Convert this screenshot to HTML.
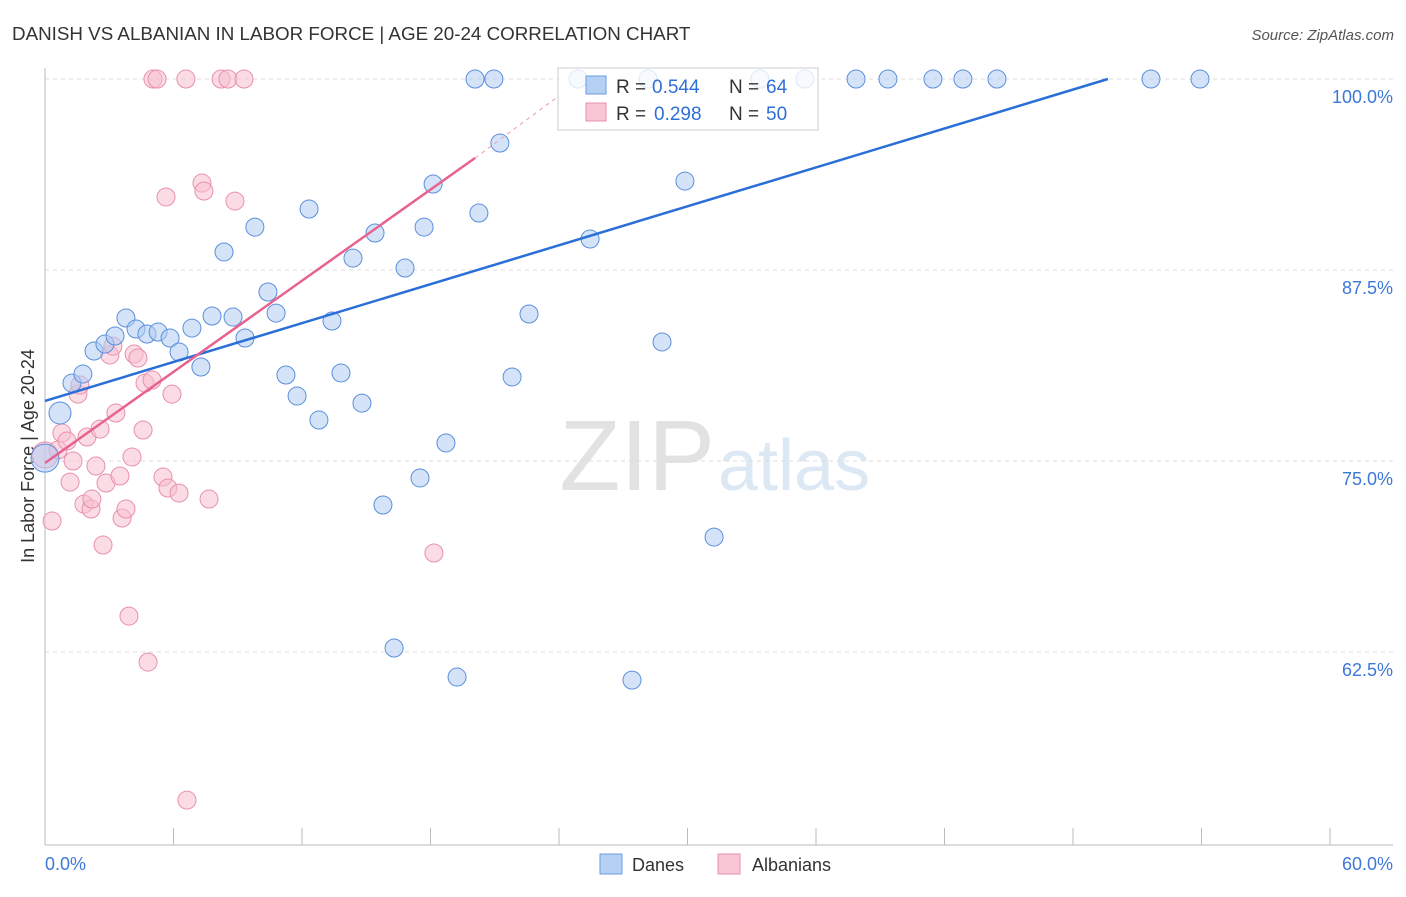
<!DOCTYPE html>
<html><head><meta charset="utf-8"><style>
body{margin:0;background:#fff;font-family:"Liberation Sans",sans-serif}
svg text{font-family:"Liberation Sans",sans-serif}
</style></head><body>
<svg id="c" width="1406" height="892" xmlns="http://www.w3.org/2000/svg">
<text x="12" y="40" font-size="18.8" fill="#333">DANISH VS ALBANIAN IN LABOR FORCE | AGE 20-24 CORRELATION CHART</text>
<text x="1394" y="40" font-size="15" fill="#555" font-style="italic" text-anchor="end">Source: ZipAtlas.com</text>
<text x="715" y="490" font-size="100" fill="#e2e2e2" text-anchor="end" font-family="Liberation Serif">ZIP</text>
<text x="718" y="490" font-size="72" fill="#dde8f5">atlas</text>
<text transform="translate(34,456) rotate(-90)" font-size="18" fill="#333" text-anchor="middle">In Labor Force | Age 20-24</text>
<g id="grid"></g><g id="pts"></g><g id="lines"></g>
<g>
<rect x="558" y="68" width="260" height="62" fill="#fff" fill-opacity="0.8" stroke="#ccc"/>
<rect x="586" y="76" width="20" height="18" fill="#b5d0f3" stroke="#6a9de0"/>
<text x="616" y="93" font-size="19" fill="#333">R =</text>
<text x="652" y="93" font-size="19" fill="#2f6fd6">0.544</text>
<text x="729" y="93" font-size="19" fill="#333">N =</text>
<text x="766" y="93" font-size="19" fill="#2f6fd6">64</text>
<rect x="586" y="103" width="20" height="18" fill="#f8c6d5" stroke="#e890ac"/>
<text x="616" y="120" font-size="19" fill="#333">R =</text>
<text x="654" y="120" font-size="19" fill="#2f6fd6">0.298</text>
<text x="729" y="120" font-size="19" fill="#333">N =</text>
<text x="766" y="120" font-size="19" fill="#2f6fd6">50</text>
</g>
<g>
<rect x="600" y="854" width="22" height="20" fill="#b5d0f3" stroke="#6a9de0"/>
<text x="632" y="871" font-size="18" fill="#333">Danes</text>
<rect x="718" y="854" width="22" height="20" fill="#f8c6d5" stroke="#e890ac"/>
<text x="752" y="871" font-size="18" fill="#333">Albanians</text>
</g>
</svg>
<script>
const danesX=[0,0.70,1.26,1.77,2.29,2.80,3.27,3.78,4.25,4.76,5.28,5.84,6.26,6.86,7.28,7.80,8.36,8.78,9.34,9.80,10.41,10.79,11.25,11.77,12.33,12.79,13.40,13.82,14.38,14.80,15.41,15.78,16.30,16.81,17.51,17.70,18.12,18.72,19.24,20.08,20.26,20.96,21.24,21.81,22.60,24.89,25.45,27.41,28.16,28.81,29.88,31.24,33.38,35.48,37.87,39.36,41.46,42.86,44.45,51.64,53.93];
const danesY=[75.19,78.14,80.10,80.69,82.20,82.66,83.18,84.36,83.64,83.31,83.44,83.05,82.13,83.70,81.15,84.49,88.68,84.42,83.05,90.31,86.06,84.68,80.63,79.25,91.49,77.68,84.16,80.76,88.28,78.79,89.92,72.12,62.76,87.63,73.89,90.31,93.13,76.18,60.86,100,91.23,100,95.81,80.50,84.62,100,89.53,60.66,100,82.79,93.32,70.02,100,100,100,100,100,100,100,100,100];
const albX=[0,0.33,0.61,0.79,1.03,1.17,1.31,1.54,1.63,1.82,1.96,2.15,2.19,2.38,2.57,2.71,2.85,3.03,3.17,3.31,3.50,3.60,3.78,3.92,4.06,4.16,4.34,4.58,4.67,4.81,5.00,5.04,5.23,5.51,5.65,5.74,5.93,6.26,6.63,6.58,7.33,7.42,7.66,8.22,8.54,8.87,9.29,18.16];
const albY=[75.39,71.07,75.72,76.83,76.31,73.62,75.00,79.38,79.97,72.18,76.57,71.86,72.51,74.67,77.09,69.50,73.56,81.94,82.52,78.14,74.02,71.27,71.86,64.85,75.26,82.00,81.74,77.03,80.10,61.84,80.30,100,100,73.95,92.28,73.23,79.38,72.90,52.81,100,93.19,92.67,72.51,100,100,92.01,100,68.98];
const danesLine=[[0,78.93],[49.63,100]];
const albLine=[[0,74.87],[20.08,94.83]];
const albLineDash=[[20.08,94.83],[24.0,98.9]];
const yTicks=[100,87.5,75,62.5];
const yTickLabels=["100.0%","87.5%","75.0%","62.5%"];
const xTicks=[0,6,12,18,24,30,36,42,48,54,60];
const NS="http://www.w3.org/2000/svg";
const sx=v=>45+v*1285/60, sy=v=>79+(100-v)*191/12.5;
function mk(t,a,p){const e=document.createElementNS(NS,t);for(const k in a)e.setAttribute(k,a[k]);p.appendChild(e);return e;}
const grid=document.getElementById('grid'),lines=document.getElementById('lines'),pts=document.getElementById('pts');
yTicks.forEach((v,i)=>{
 const g=mk('line',{x1:45,x2:1393,y1:sy(v),y2:sy(v),stroke:'#ddd','stroke-dasharray':'4,4'},grid);
 
 
 const t=mk('text',{x:1393,y:sy(v)+24,'font-size':18,fill:'#3d78d8','text-anchor':'end'},grid);t.textContent=yTickLabels[i];
 
 
});
const ax=mk('line',{x1:45,x2:1393,y1:845,y2:845,stroke:'#bbb'},grid);


const ay=mk('line',{x1:45,x2:45,y1:68,y2:845,stroke:'#bbb'},grid);


xTicks.forEach(v=>{const l=mk('line',{x1:sx(v),x2:sx(v),y1:828,y2:845,stroke:'#bbb'},grid);
 
 });
[[0,'0.0%','start',45],[60,'60.0%','end',1393]].forEach(([v,s,a,x])=>{const t=mk('text',{x:x,y:870,'font-size':18,fill:'#3d78d8','text-anchor':a},grid);t.textContent=s;
 
 });
function pt(x,y,r,f,s,name){const c=mk('circle',{cx:sx(x),cy:sy(y),r:r,fill:f,stroke:s,'stroke-width':1,'fill-opacity':0.55},pts);
 
 }
albX.forEach((x,i)=>pt(x,albY[i],i==0?13:9,'#f8bfd0','#e890ac','albanian-point'));
danesX.forEach((x,i)=>pt(x,danesY[i],i<2?(i==0?14:11):9,'#b0ccf2','#5b8fdc','danes-point'));
function ln(d,c,w,dash,name){const l=mk('line',{x1:sx(d[0][0]),y1:sy(d[0][1]),x2:sx(d[1][0]),y2:sy(d[1][1]),stroke:c,'stroke-width':w},lines);
 if(dash)l.setAttribute('stroke-dasharray',dash);
 
 }
ln(danesLine,'#2a6fd8',2.5,null,'danes-trendline');
ln(albLine,'#e8628f',2.5,null,'albanian-trendline');
ln(albLineDash,'#f0a8c0',1.2,'4,4','albanian-trendline-extension');
</script>
</body></html>
